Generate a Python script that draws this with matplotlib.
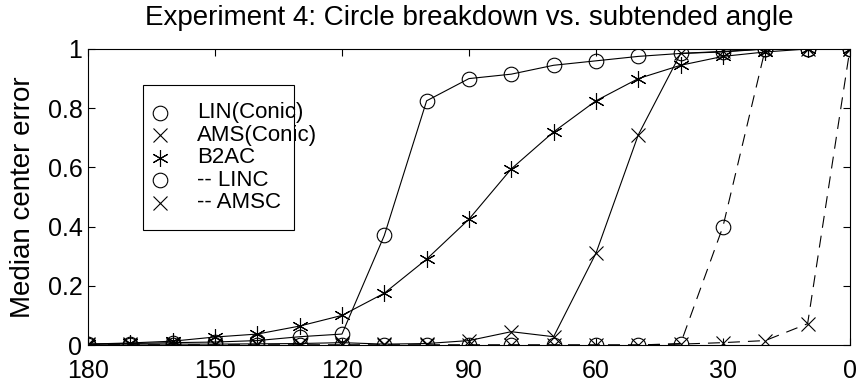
import matplotlib
matplotlib.use("Agg")
import matplotlib.pyplot as plt
from matplotlib.patches import Rectangle

plt.rcParams['font.family'] = ['Liberation Sans', 'DejaVu Sans']

angles = [180, 170, 160, 150, 140, 130, 120, 110, 100, 90, 80, 70, 60, 50, 40, 30, 20, 10, 0]

lin_conic = [0.003, 0.005, 0.008, 0.010, 0.015, 0.028, 0.037, 0.37, 0.825, 0.90, 0.915,
             0.945, 0.96, 0.975, 0.985, 0.99, 1.0, 1.0, 1.0]
ams_conic = [0.003, 0.003, 0.003, 0.003, 0.004, 0.005, 0.008, 0.003, 0.005, 0.015, 0.045,
             0.028, 0.31, 0.71, 0.985, 0.992, 1.0, 1.0, 1.0]
b2ac = [0.003, 0.007, 0.013, 0.027, 0.037, 0.064, 0.10, 0.175, 0.29, 0.425, 0.595,
        0.72, 0.825, 0.90, 0.945, 0.975, 0.99, 1.0, 1.0]
linc = [0.0, 0.0, 0.0, 0.0, 0.0, 0.0, 0.0, 0.0, 0.0, 0.0, 0.0,
        0.0, 0.0, 0.0, 0.005, 0.40, 1.0, 1.0, 1.0]
amsc = [0.0, 0.0, 0.0, 0.0, 0.0, 0.0, 0.0, 0.0, 0.0, 0.0, 0.0,
        0.0, 0.0, 0.0, 0.003, 0.008, 0.015, 0.072, 1.0]

legend_labels = ["LIN(Conic)", "AMS(Conic)", "B2AC", "-- LINC", "-- AMSC"]
x_ticks = [180, 150, 120, 90, 60, 30, 0]
y_ticks = [0, 0.2, 0.4, 0.6, 0.8, 1]
y_tick_labels = ["0", "0.2", "0.4", "0.6", "0.8", "1"]

TICK_FS = 18
LABEL_FS = 20
LEGEND_FS = 16
asterisk = (6, 2, 0)

styles = [
    dict(ls='-', marker='o', markersize=10.5),
    dict(ls='-', marker='x', markersize=10),
    dict(ls='-', marker=asterisk, markersize=12),
    dict(ls='--', marker='o', markersize=10.5, dashes=(10.8, 7.2)),
    dict(ls='--', marker='x', markersize=10, dashes=(10.8, 7.2)),
]
series = [lin_conic, ams_conic, b2ac, linc, amsc]

fig = plt.figure(figsize=(8.6, 3.87), dpi=100)
ax = fig.add_axes([0.1023, 0.1085, 0.8860, 0.7649])

common = dict(color='black', lw=0.8, markerfacecolor='none', markeredgecolor='black',
              markeredgewidth=0.8)
for values, st in zip(series, styles):
    ax.plot(angles, values, **st, **common)

ax.set_xlim(180, 0)
ax.set_ylim(0, 1)
ax.set_xticks(x_ticks)
ax.set_xticklabels([str(t) for t in x_ticks], fontsize=TICK_FS)
ax.set_yticks(y_ticks)
ax.set_yticklabels(y_tick_labels, fontsize=TICK_FS)
ax.tick_params(direction='in', top=True, right=True, length=5, width=0.8)
ax.tick_params(axis='x', pad=10)
ax.tick_params(axis='y', pad=4)
for s in ax.spines.values():
    s.set_linewidth(0.8)

ax.set_title("Experiment 4: Circle breakdown vs. subtended angle", fontsize=LABEL_FS, pad=17)
ax.set_ylabel("Median center error", fontsize=LABEL_FS, labelpad=8)

# legend: boxed key with markers only, text running past the frame
ax.add_patch(Rectangle((0.072, 0.389), 0.198, 0.489, transform=ax.transAxes,
                       fill=False, edgecolor='black', lw=0.8, zorder=1))
row0 = 0.784
row_step = 22.5 / 296
for i, (label, st) in enumerate(zip(legend_labels, styles)):
    y = row0 - i * row_step
    ax.plot([0.094], [y], ls='none', marker=st['marker'], markersize=st['markersize'],
            transform=ax.transAxes, clip_on=False,
            markerfacecolor='none', markeredgecolor='black', markeredgewidth=0.8)
    ax.text(0.143, y, label, transform=ax.transAxes, fontsize=LEGEND_FS,
            va='center', ha='left')

fig.savefig("out.png", dpi=100)
